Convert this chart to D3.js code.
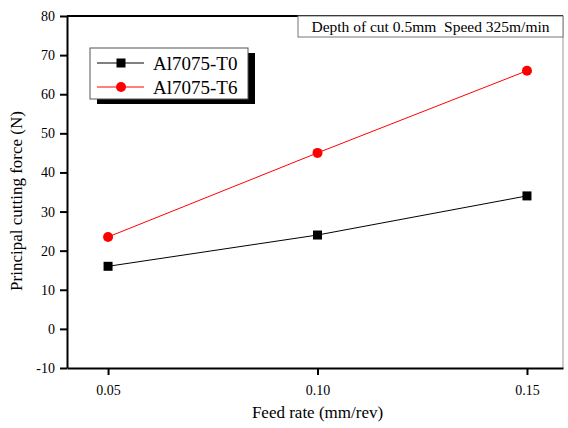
<!DOCTYPE html>
<html>
<head>
<meta charset="utf-8">
<script src="https://cdn.jsdelivr.net/npm/d3@7"></script>
<style>
  body { margin: 0; background: #fff; }
  text { font-family: "Liberation Serif", "Times New Roman", serif; }
</style>
</head>
<body>
<div id="chart"></div>
<script>
var feedRates = [0.05, 0.10, 0.15];
var forceT0 = [16, 24, 34];
var forceT6 = [23.5, 45, 66];
var seriesNames = ["Al7075-T0", "Al7075-T6"];
var yTicks = [-10, 0, 10, 20, 30, 40, 50, 60, 70, 80];
var xTickLabels = ["0.05", "0.10", "0.15"];
var noteText = "Depth of cut 0.5mm\u00a0\u00a0Speed 325m/min";

var margin = { top: 16, right: 5, bottom: 60, left: 67 },
    width = 568 - margin.left - margin.right,
    height = 428 - margin.top - margin.bottom;

var svg = d3.select("#chart")
    .append("svg")
    .attr("width", 568)
    .attr("height", 428)
    .append("g")
    .attr("transform", "translate(" + margin.left + "," + margin.top + ")");

var x = d3.scaleLinear().domain([0.0402, 0.1586]).range([0, width]);
var y = d3.scaleLinear().domain([-10, 80]).range([height, 0]);

// frame: top black, right thin grey
svg.append("line").attr("x1", 0).attr("x2", width).attr("y1", 0).attr("y2", 0)
    .attr("stroke", "#000").attr("stroke-width", 2);
svg.append("line").attr("x1", width).attr("x2", width).attr("y1", 0).attr("y2", height)
    .attr("stroke", "#999").attr("stroke-width", 1);

// axes
var xAxis = svg.append("g")
    .attr("transform", "translate(0," + height + ")")
    .call(d3.axisBottom(x).tickValues(feedRates).tickSize(7).tickSizeOuter(0)
        .tickFormat(function(d, i) { return xTickLabels[i]; }));
var yAxis = svg.append("g")
    .call(d3.axisLeft(y).tickValues(yTicks).tickSize(7).tickSizeOuter(0)
        .tickFormat(function(d) { return String(d); }));

[xAxis, yAxis].forEach(function(a) {
    a.attr("font-family", "Liberation Serif, serif").attr("font-size", 14);
    a.select(".domain").attr("stroke-width", 2);
    a.selectAll(".tick line").attr("stroke-width", 2);
    a.selectAll(".tick text")
        .style("font-family", "'Liberation Serif', serif")
        .style("font-size", "14px")
        .attr("fill", "#000");
});
xAxis.selectAll(".tick text").attr("dy", "1.2em");
yAxis.selectAll(".tick text").attr("x", -12);

// axis titles
svg.append("text")
    .attr("x", x(0.10))
    .attr("y", height + 50)
    .attr("text-anchor", "middle")
    .style("font-size", "17px")
    .text("Feed rate (mm/rev)");
svg.append("text")
    .attr("transform", "translate(-45," + (201 - margin.top) + ") rotate(-90)")
    .attr("text-anchor", "middle")
    .style("font-size", "17px")
    .text("Principal cutting force (N)");

// series
var series = [
    { name: seriesNames[0], values: forceT0, color: "#000", shape: "square" },
    { name: seriesNames[1], values: forceT6, color: "#ff0000", shape: "circle" }
];

var line = d3.line()
    .x(function(d, i) { return x(feedRates[i]); })
    .y(function(d) { return y(d); });

series.forEach(function(s) {
    svg.append("path")
        .datum(s.values)
        .attr("d", line)
        .attr("fill", "none")
        .attr("stroke", s.color)
        .attr("stroke-width", 1);
    if (s.shape == "square") {
        svg.selectAll(".sq")
            .data(s.values)
            .enter()
            .append("rect")
            .attr("x", function(d, i) { return x(feedRates[i]) - 4.5; })
            .attr("y", function(d) { return y(d) - 4.5; })
            .attr("width", 9)
            .attr("height", 9)
            .attr("fill", s.color);
    } else {
        svg.selectAll(".ci")
            .data(s.values)
            .enter()
            .append("circle")
            .attr("cx", function(d, i) { return x(feedRates[i]); })
            .attr("cy", function(d) { return y(d); })
            .attr("r", 5)
            .attr("fill", s.color);
    }
});

// note box top right
var note = svg.append("g").attr("transform", "translate(" + (298 - margin.left) + ",0)");
note.append("rect")
    .attr("x", 0).attr("y", 0)
    .attr("width", width - (298 - margin.left)).attr("height", 21)
    .attr("fill", "#fff").attr("stroke", "#777").attr("stroke-width", 1);
note.append("text")
    .attr("x", (width - (298 - margin.left)) / 2)
    .attr("y", 15.5)
    .attr("text-anchor", "middle")
    .style("font-size", "15.5px")
    .text(noteText);

// legend with drop shadow
var leg = svg.append("g").attr("transform", "translate(" + (90 - margin.left) + "," + (48 - margin.top) + ")");
leg.append("rect")
    .attr("x", 7).attr("y", 5)
    .attr("width", 158).attr("height", 51)
    .attr("fill", "#000");
leg.append("rect")
    .attr("x", 0).attr("y", 0)
    .attr("width", 158).attr("height", 51)
    .attr("fill", "#fff").attr("stroke", "#555").attr("stroke-width", 1);

series.forEach(function(s, i) {
    var row = leg.append("g").attr("transform", "translate(0," + (15 + i * 24) + ")");
    row.append("line")
        .attr("x1", 7).attr("x2", 54).attr("y1", 0).attr("y2", 0)
        .attr("stroke", s.color).attr("stroke-width", 1);
    if (s.shape == "square") {
        row.append("rect").attr("x", 26.5).attr("y", -4.5).attr("width", 9).attr("height", 9).attr("fill", s.color);
    } else {
        row.append("circle").attr("cx", 31).attr("cy", 0).attr("r", 5).attr("fill", s.color);
    }
    row.append("text")
        .attr("x", 63)
        .attr("y", 7)
        .style("font-size", "19px")
        .text(s.name);
});
</script>
</body>
</html>
